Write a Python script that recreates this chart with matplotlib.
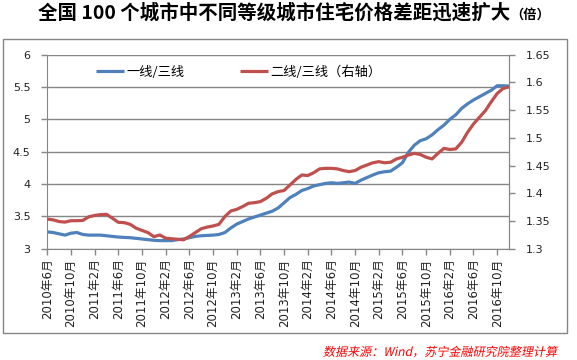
import numpy as np
import matplotlib
matplotlib.use("Agg")
import matplotlib.pyplot as plt
from matplotlib.patches import Rectangle, PathPatch
from matplotlib.textpath import TextPath
from matplotlib.font_manager import FontProperties
from matplotlib.transforms import Affine2D

plt.rcParams['font.family'] = ['DejaVu Sans', 'Noto Sans CJK SC']

# monthly, 2010-06 .. 2016-12
tier1_vs_tier3 = [3.26, 3.25, 3.23, 3.21, 3.24, 3.25, 3.22, 3.21, 3.21, 3.21,
                  3.20, 3.19, 3.18, 3.175, 3.17, 3.16, 3.15, 3.14, 3.13, 3.125,
                  3.125, 3.125, 3.14, 3.15, 3.17, 3.19, 3.20, 3.205, 3.21, 3.22,
                  3.25, 3.32, 3.38, 3.42, 3.46, 3.49, 3.52, 3.55, 3.58, 3.63,
                  3.71, 3.79, 3.84, 3.90, 3.93, 3.97, 3.99, 4.01, 4.02, 4.01,
                  4.02, 4.03, 4.01, 4.06, 4.10, 4.14, 4.175, 4.19, 4.20, 4.26,
                  4.33, 4.49, 4.60, 4.67, 4.70, 4.76, 4.84, 4.91, 5.00, 5.07,
                  5.17, 5.24, 5.30, 5.35, 5.40, 5.45, 5.52, 5.52, 5.515]
tier2_vs_tier3 = [1.3535, 1.352, 1.349, 1.348, 1.3505, 1.3505, 1.351, 1.3575, 1.360, 1.3615,
                  1.362, 1.355, 1.3476, 1.347, 1.344, 1.337, 1.333, 1.329, 1.3217, 1.3247,
                  1.319, 1.318, 1.317, 1.316, 1.322, 1.329, 1.336, 1.339, 1.341, 1.344,
                  1.358, 1.368, 1.371, 1.376, 1.382, 1.383, 1.385, 1.391, 1.399, 1.403,
                  1.405, 1.415, 1.425, 1.433, 1.432, 1.437, 1.444, 1.445, 1.445, 1.444,
                  1.441, 1.439, 1.441, 1.447, 1.451, 1.455, 1.457, 1.455, 1.456, 1.462,
                  1.465, 1.469, 1.472, 1.470, 1.465, 1.462, 1.472, 1.481, 1.479, 1.480,
                  1.492, 1.510, 1.525, 1.537, 1.549, 1.565, 1.580, 1.589, 1.592]
tick_labels = ['2010年6月', '2010年10月', '2011年2月', '2011年6月', '2011年10月',
               '2012年2月', '2012年6月', '2012年10月', '2013年2月', '2013年6月',
               '2013年10月', '2014年2月', '2014年6月', '2014年10月', '2015年2月',
               '2015年6月', '2015年10月', '2016年2月', '2016年6月', '2016年10月']

blue = '#4F81BD'
red = '#C0504D'
grey = '#868686'

x = np.arange(len(tier1_vs_tier3))

fig = plt.figure(figsize=(5.77, 3.60), dpi=100)
ax = fig.add_axes([47.3/577, 1-248.7/360, (509-47.3)/577, 194/360])
ax2 = ax.twinx()

l1, = ax.plot(x, tier1_vs_tier3, color=blue, lw=2.3, solid_capstyle='butt', label='一线/三线')
l2, = ax2.plot(x, tier2_vs_tier3, color=red, lw=2.3, solid_capstyle='butt', label='二线/三线（右轴）')

ax.set_xlim(0, len(x) - 1)
ax.set_ylim(3, 6)
ax.set_yticks(np.arange(3, 6.01, 0.5))
ax.set_yticklabels(['3', '3.5', '4', '4.5', '5', '5.5', '6'])
ax2.set_ylim(1.3, 1.65)
ax2.set_yticks(np.arange(1.3, 1.651, 0.05))
ax2.set_yticklabels(['1.3', '1.35', '1.4', '1.45', '1.5', '1.55', '1.6', '1.65'])

ax.set_xticks(x[::4])
ax.set_xticklabels(tick_labels, rotation=90, fontsize=8.5, color='#222222')

ax.yaxis.grid(True, color=grey, lw=1)
ax.set_axisbelow(True)

for a in (ax, ax2):
    for s in a.spines.values():
        s.set_color(grey)
    a.spines['top'].set_visible(False)
    a.tick_params(axis='y', colors=grey, labelcolor='#222222', labelsize=8, length=4, width=1, pad=8)
ax2.spines['left'].set_visible(False)
ax2.spines['bottom'].set_visible(False)
ax.tick_params(axis='x', colors=grey, labelcolor='#222222', length=4, width=1, pad=3)

ax.legend(handles=[l1, l2], loc='center', bbox_to_anchor=(0.415, 0.909), ncol=2,
          frameon=False, handlelength=2.1, handletextpad=0.2,
          columnspacing=4.2, prop={'family': ['Noto Sans CJK SC'], 'size': 9.5})

# chart border
fig.add_artist(Rectangle((3/577, 1-333/360), 564/577, 294/360, transform=fig.transFigure,
                         fill=False, edgecolor=grey, lw=1))

fig.text(510/577, 1-19/360, '全国 100 个城市中不同等级城市住宅价格差距迅速扩大', ha='right', va='baseline',
         fontsize=14, fontweight='bold', family=['Noto Sans CJK SC'])
fig.text(510/577, 1-19/360, '（倍）', ha='left', va='baseline',
         fontsize=9.5, fontweight='bold', family=['Noto Sans CJK SC'])

# source note, slanted like the original
note = '数据来源：Wind，苏宁金融研究院整理计算'
tp = TextPath((0, 0), note, prop=FontProperties(family=['Noto Sans CJK SC'], size=8.7))
w = tp.get_extents().width / 72
tr = Affine2D().skew_deg(12, 0).scale(1/72).translate(5.58 - w - 0.02, (360 - 356) / 100) + fig.dpi_scale_trans
fig.add_artist(PathPatch(tp, transform=tr, facecolor='#FF0000', edgecolor='none'))

fig.savefig('out.png', dpi=100)
